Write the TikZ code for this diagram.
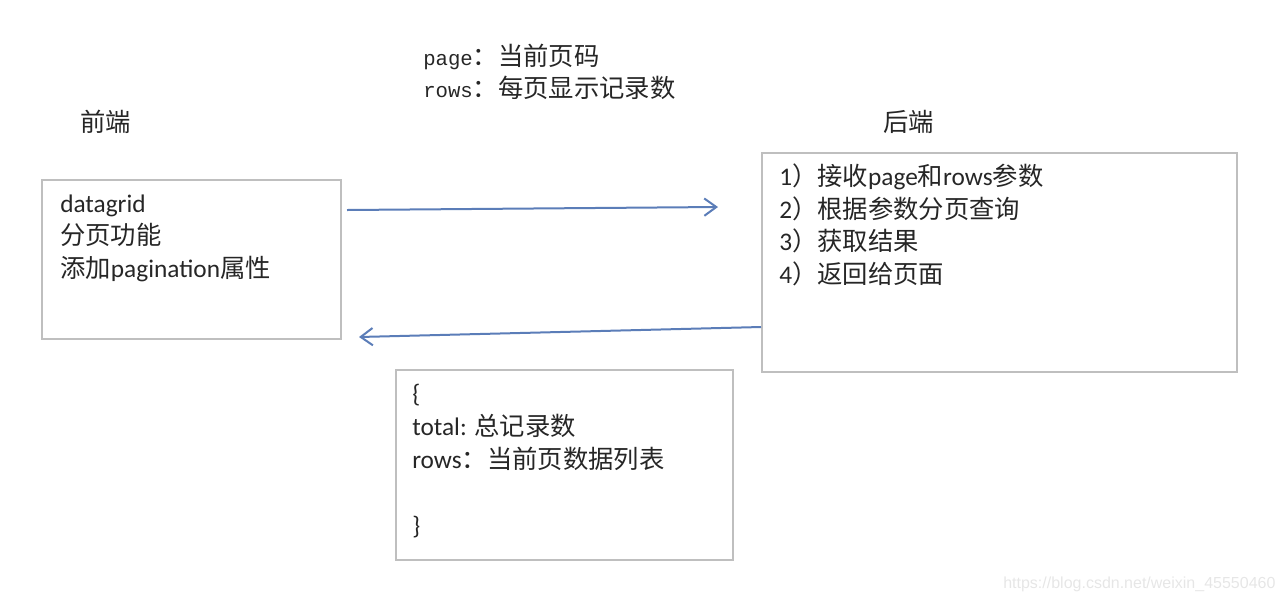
\documentclass[tikz,border=0pt]{standalone}
\usepackage{fontspec}
\setmainfont{Carlito}
\newfontfamily\cjk{Noto Sans CJK SC}
\newfontfamily\mono{Liberation Mono}
\newfontfamily\wmfont{Liberation Sans}
\usetikzlibrary{arrows.meta}
\definecolor{boxgray}{HTML}{BFBFBF}
\definecolor{arrblue}{HTML}{5B7DB8}
\definecolor{wmgray}{HTML}{E6E6E6}
\begin{document}
\begin{tikzpicture}[x=0.75pt,y=-0.75pt,
  panel/.style={draw=boxgray,line width=1.4pt,anchor=north west,inner sep=0pt,outer sep=0pt},
  txt/.style={anchor=base west,inner sep=0pt,font=\fontsize{19pt}{23pt}\selectfont,text=black!85},
  toptxt/.style={anchor=base west,inner sep=0pt,font=\fontsize{19pt}{23pt}\selectfont,text=black!85},
  flow/.style={draw=arrblue,line width=1.5pt,-{Straight Barb[length=9pt,width=13pt,line width=1.5pt]}}]
\useasboundingbox (0,0) rectangle (1284,601);
% boxes
\node[panel,minimum width=299*0.75pt,minimum height=159*0.75pt] (lbox) at (42,180) {};
\node[panel,minimum width=475*0.75pt,minimum height=219*0.75pt] (rbox) at (762,153) {};
\node[panel,minimum width=337*0.75pt,minimum height=190*0.75pt] (bbox) at (396,370) {};
% top text
\node[toptxt] (t1) at (423,65) {{\mono\fontsize{15.5pt}{18pt}\selectfont page}{\cjk ：当前页码}};
\node[toptxt] (t2) at (423,97) {{\mono\fontsize{15.5pt}{18pt}\selectfont rows}{\cjk ：每页显示记录数}};
% headings
\node[txt] (fe) at (80,131) {\cjk 前端};
\node[txt] (be) at (883,131) {\cjk 后端};
% left box text
\node[txt] (l1) at (60,212) {datagrid};
\node[txt] (l2) at (60,244.5) {\cjk 分页功能};
\node[txt] (l3) at (60,277) {{\cjk 添加}pagination{\cjk 属性}};
% right box text
\node[txt] (r1) at (779,185) {1{\cjk ）接收}page{\cjk 和}rows{\cjk 参数}};
\node[txt] (r2) at (779,218) {2{\cjk ）根据参数分页查询}};
\node[txt] (r3) at (779,250.5) {3{\cjk ）获取结果}};
\node[txt] (r4) at (779,283) {4{\cjk ）返回给页面}};
% bottom box text
\node[txt] (b1) at (412,402) {\{};
\node[txt] (b2) at (412,435) {total: {\cjk 总记录数}};
\node[txt] (b3) at (412,468) {rows{\cjk ：当前页数据列表}};
\node[txt] (b5) at (412,534) {\}};
% arrows
\coordinate (a1s) at (347,210);
\coordinate (a1e) at (718,207);
\coordinate (a2s) at (761,327);
\coordinate (a2e) at (359,337);
\draw[flow] (a1s) -- (a1e);
\draw[flow] (a2s) -- (a2e);
% watermark
\node[anchor=base west,inner sep=0pt,text=wmgray,font=\wmfont\fontsize{12pt}{14pt}\selectfont] (wm) at (1003,588) {https://blog.csdn.net/weixin\_45550460};
\end{tikzpicture}
\end{document}
